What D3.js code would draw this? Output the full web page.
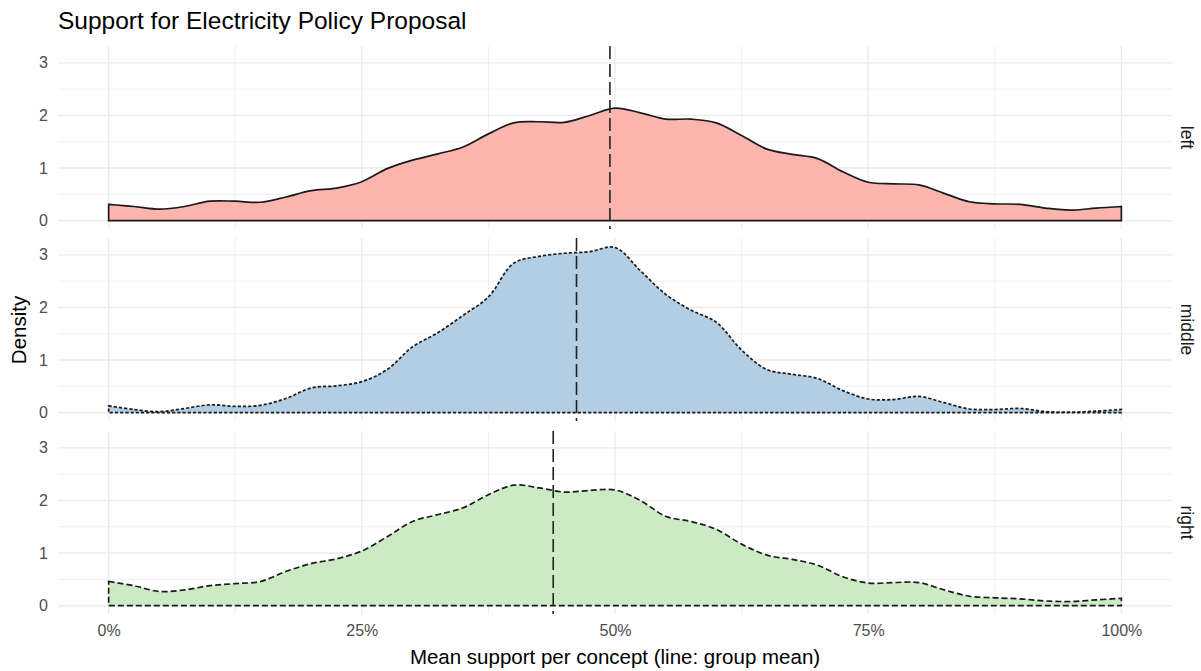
<!DOCTYPE html>
<html>
<head>
<meta charset="utf-8">
<script src="https://cdn.jsdelivr.net/npm/d3@7"></script>
<style>
  body { margin: 0; background: #fff; }
  text { font-family: "Liberation Sans", Arial, sans-serif; }
</style>
</head>
<body>
<div id="chart"></div>
<script>
// support grid, 0%..100% in steps of 2.5%
var support = d3.range(0, 41).map(function (i) { return i * 0.025 })

var groups = ['left', 'middle', 'right']

var densLeft = [0.31, 0.27, 0.22, 0.27, 0.37, 0.37, 0.35, 0.45, 0.57, 0.62,
	0.74, 0.99, 1.15, 1.27, 1.40, 1.65, 1.86, 1.88, 1.87, 2.00,
	2.14, 2.05, 1.93, 1.93, 1.86, 1.62, 1.36, 1.26, 1.18, 0.93,
	0.73, 0.70, 0.68, 0.52, 0.36, 0.32, 0.31, 0.24, 0.20, 0.24, 0.27]

var densMiddle = [0.13, 0.06, 0.02, 0.08, 0.15, 0.12, 0.14, 0.27, 0.47, 0.51,
	0.59, 0.82, 1.25, 1.52, 1.85, 2.20, 2.84, 2.97, 3.03, 3.06,
	3.14, 2.70, 2.25, 1.95, 1.72, 1.19, 0.82, 0.73, 0.65, 0.42,
	0.26, 0.25, 0.31, 0.19, 0.07, 0.06, 0.08, 0.02, 0.01, 0.03, 0.06]

var densRight = [0.46, 0.38, 0.27, 0.30, 0.38, 0.42, 0.46, 0.65, 0.80, 0.89,
	1.04, 1.31, 1.60, 1.73, 1.86, 2.11, 2.29, 2.24, 2.16, 2.19,
	2.20, 2.00, 1.70, 1.60, 1.45, 1.17, 0.96, 0.88, 0.77, 0.55,
	0.43, 0.44, 0.44, 0.30, 0.18, 0.15, 0.13, 0.09, 0.08, 0.11, 0.14]

var groupMeans = [0.495, 0.462, 0.439]

var xTicks = [0, 0.25, 0.5, 0.75, 1]
var yTicks = [0, 1, 2, 3]

var densities = [densLeft, densMiddle, densRight]
var fills = ['#FBB4AE', '#B3CDE3', '#CCEBC5']
var outlineDash = [null, '3.2,2', '6,3']

var width = 1201,
	height = 671

var panelLeft = 58,
	panelRight = 1172,
	panelH = 183,
	panelTops = [46, 238, 431]

var svg = d3.select('#chart').append('svg')
	.attr('width', width)
	.attr('height', height)

var x = d3.scaleLinear()
	.domain([-0.05, 1.05])
	.range([panelLeft, panelRight])

var grid = '#ebebeb'

groups.forEach(function (g, gi) {
	var top = panelTops[gi]
	var y = d3.scaleLinear()
		.domain([-0.158, 3.32])
		.range([top + panelH, top])

	var panel = svg.append('g')

	// minor grid
	;[0.5, 1.5, 2.5].forEach(function (v) {
		panel.append('line')
			.attr('x1', panelLeft).attr('x2', panelRight)
			.attr('y1', y(v)).attr('y2', y(v))
			.attr('stroke', grid).attr('stroke-width', 0.8)
	})
	;[0.125, 0.375, 0.625, 0.875].forEach(function (v) {
		panel.append('line')
			.attr('x1', x(v)).attr('x2', x(v))
			.attr('y1', top).attr('y2', top + panelH)
			.attr('stroke', grid).attr('stroke-width', 0.8)
	})
	// major grid
	yTicks.forEach(function (v) {
		panel.append('line')
			.attr('x1', panelLeft).attr('x2', panelRight)
			.attr('y1', y(v)).attr('y2', y(v))
			.attr('stroke', grid).attr('stroke-width', 1.4)
	})
	xTicks.forEach(function (v) {
		panel.append('line')
			.attr('x1', x(v)).attr('x2', x(v))
			.attr('y1', top).attr('y2', top + panelH)
			.attr('stroke', grid).attr('stroke-width', 1.4)
	})

	// y axis labels
	var yAxis = d3.axisLeft(y).tickValues(yTicks).tickFormat(d3.format('d'))
		.tickSize(0).tickPadding(10)
	var ya = panel.append('g')
		.attr('transform', 'translate(' + panelLeft + ',0)')
		.call(yAxis)
	ya.select('.domain').remove()
	ya.selectAll('text')
		.attr('fill', '#4d4d4d')
		.style('font-size', '16px')

	// density
	var data = support.map(function (s, i) { return [s, densities[gi][i]] })
	var area = d3.area()
		.x(function (d) { return x(d[0]) })
		.y0(y(0))
		.y1(function (d) { return y(d[1]) })
		.curve(d3.curveCatmullRom.alpha(0.5))

	panel.append('path')
		.attr('d', area(data) + 'Z')
		.attr('fill', fills[gi])
		.attr('stroke', '#1a1a1a')
		.attr('stroke-width', 1.7)
		.attr('stroke-dasharray', outlineDash[gi])

	// mean line
	panel.append('line')
		.attr('x1', x(groupMeans[gi])).attr('x2', x(groupMeans[gi]))
		.attr('y1', top).attr('y2', top + panelH)
		.attr('stroke', '#222')
		.attr('stroke-width', 1.6)
		.attr('stroke-dasharray', '13,5')

	// strip label
	panel.append('text')
		.attr('transform', 'translate(1181,' + (top + panelH / 2) + ') rotate(90)')
		.attr('text-anchor', 'middle')
		.attr('fill', '#1a1a1a')
		.style('font-size', '17.5px')
		.text(g)
})

// x axis labels
var xAxis = d3.axisBottom(x)
	.tickValues(xTicks)
	.tickFormat(d3.format('.0%'))
	.tickSize(0)
	.tickPadding(11)
var xa = svg.append('g')
	.attr('transform', 'translate(0,' + (panelTops[2] + panelH) + ')')
	.call(xAxis)
xa.select('.domain').remove()
xa.selectAll('text')
	.attr('fill', '#4d4d4d')
	.style('font-size', '16px')

// titles
svg.append('text')
	.attr('x', 58)
	.attr('y', 29)
	.style('font-size', '24.5px')
	.attr('fill', '#000')
	.text('Support for Electricity Policy Proposal')

svg.append('text')
	.attr('x', (panelLeft + panelRight) / 2)
	.attr('y', 664)
	.attr('text-anchor', 'middle')
	.style('font-size', '20.5px')
	.attr('fill', '#000')
	.text('Mean support per concept (line: group mean)')

svg.append('text')
	.attr('transform', 'translate(26,' + ((panelTops[0] + panelTops[2] + panelH) / 2) + ') rotate(-90)')
	.attr('text-anchor', 'middle')
	.style('font-size', '20.5px')
	.attr('fill', '#000')
	.text('Density')
</script>
</body>
</html>
